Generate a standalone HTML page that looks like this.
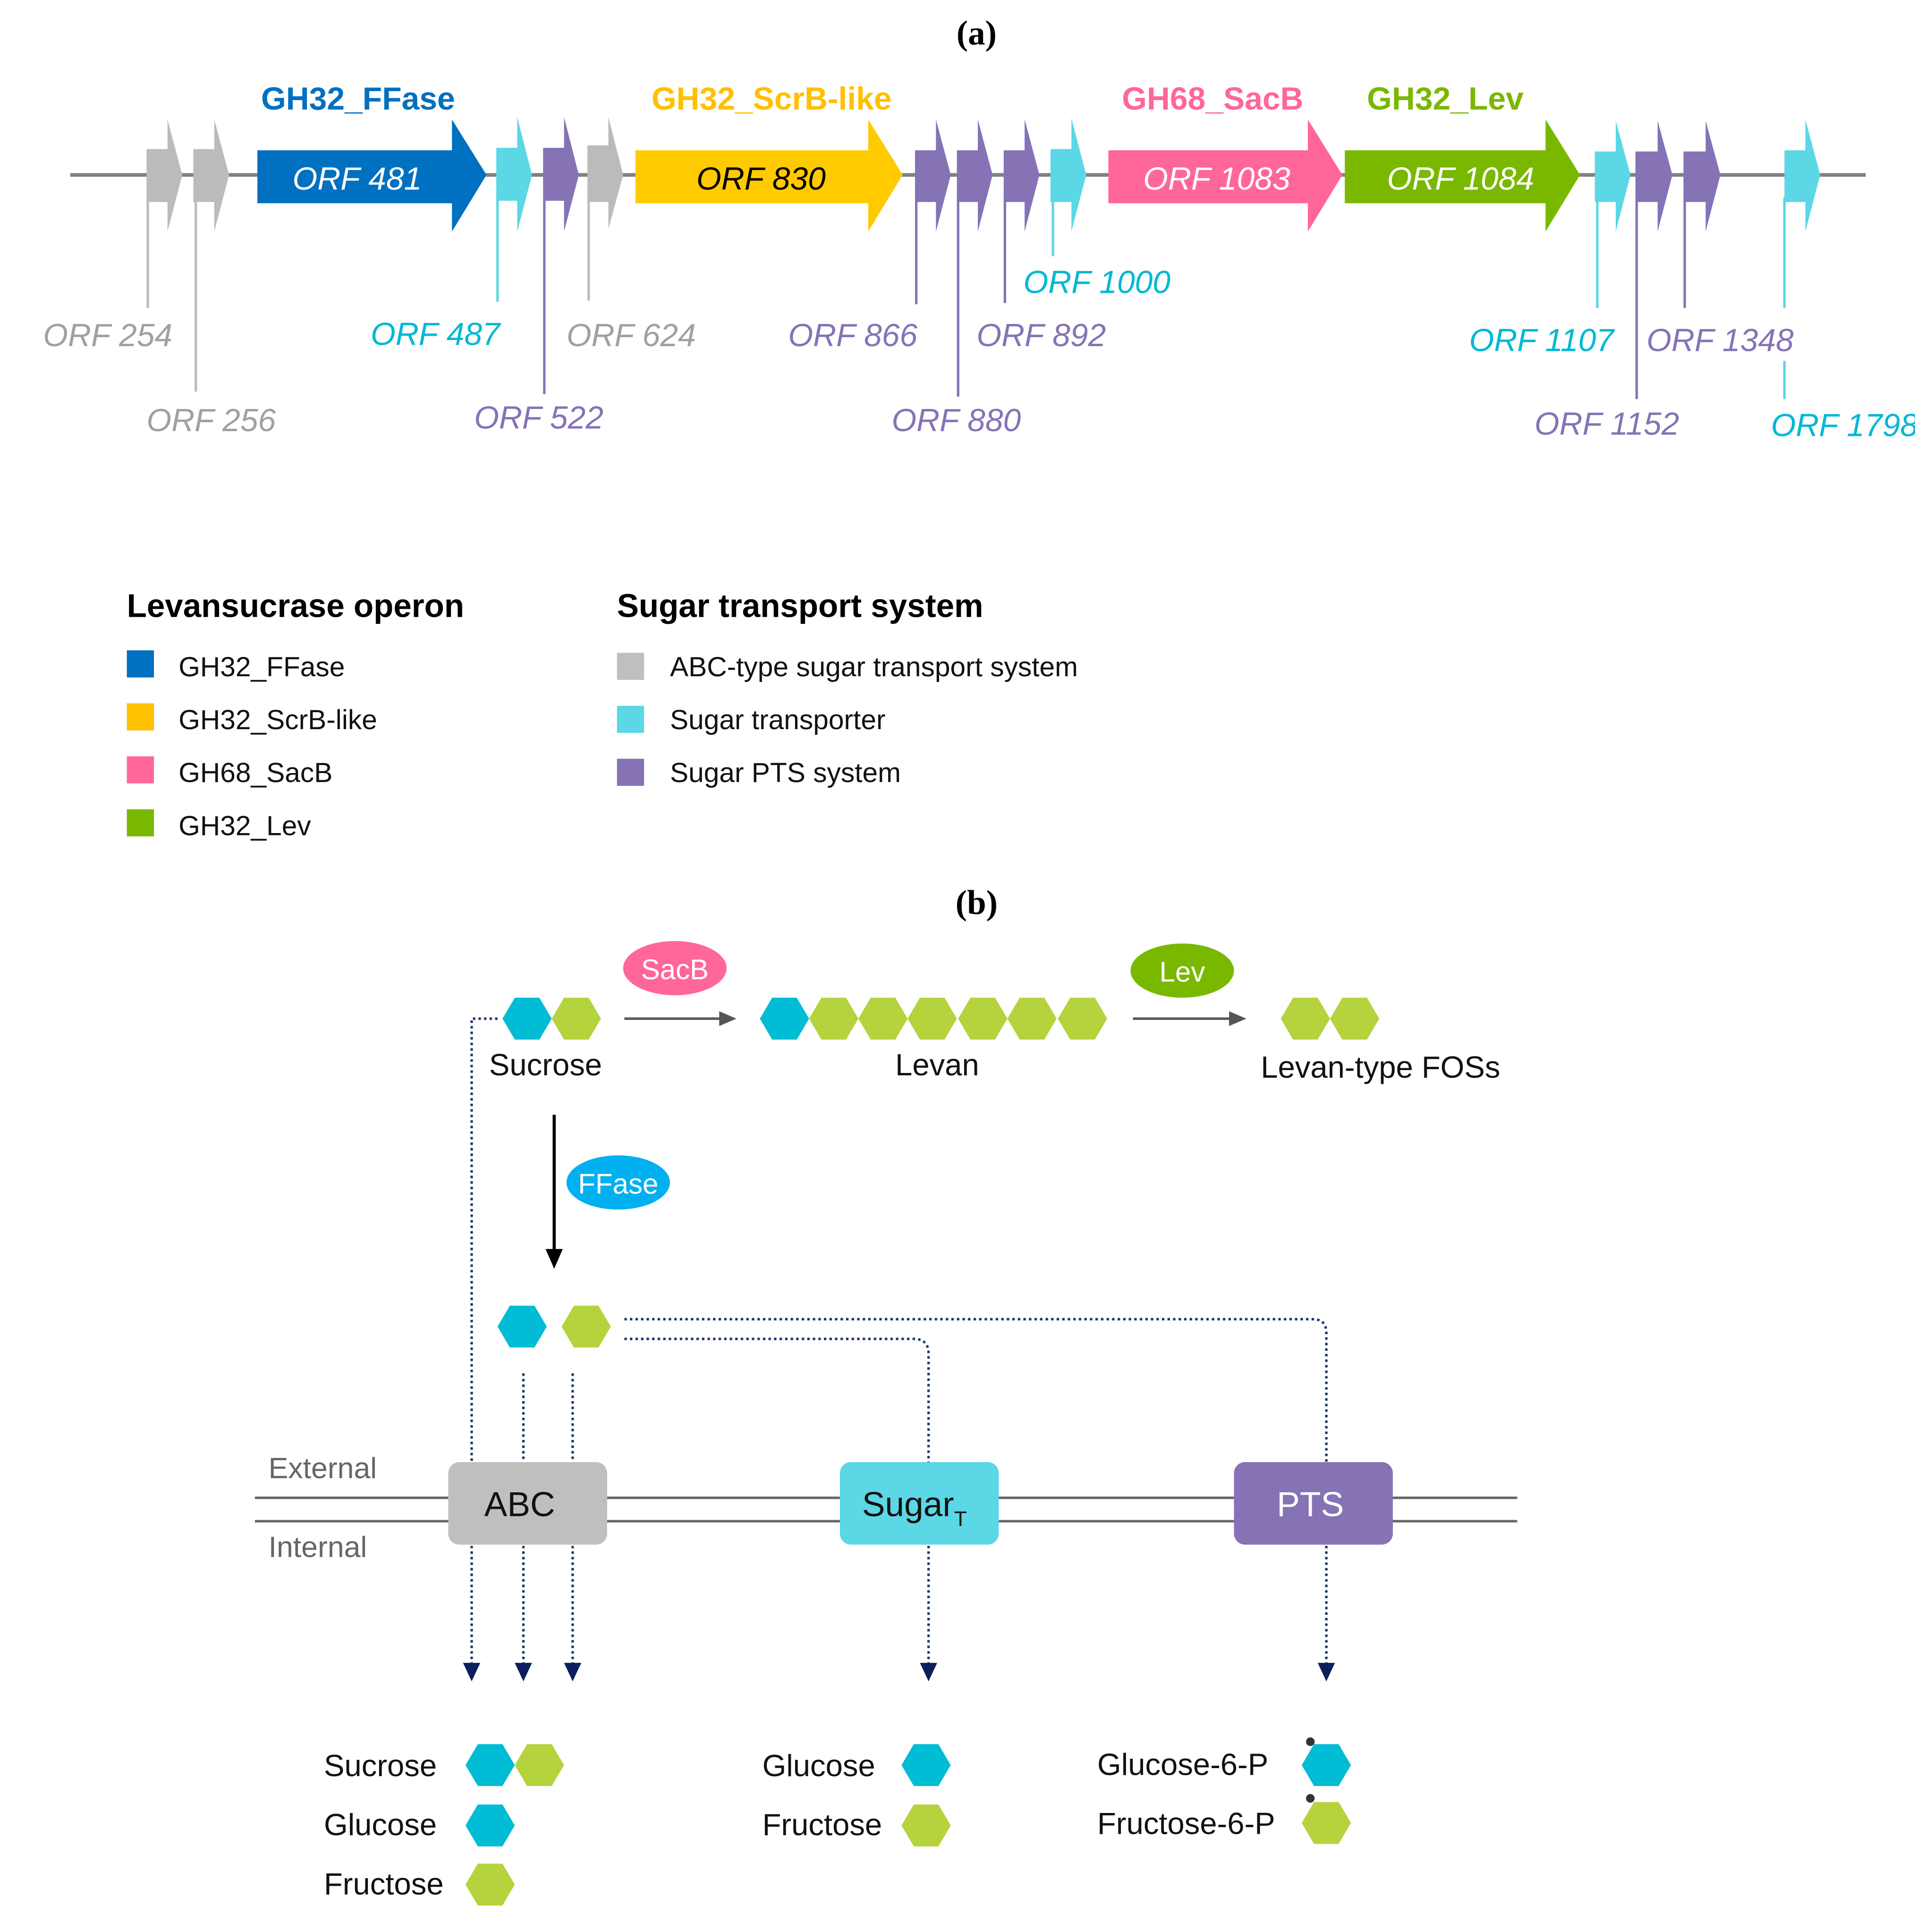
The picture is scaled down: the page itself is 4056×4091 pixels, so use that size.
<!DOCTYPE html>
<html><head><meta charset="utf-8"><style>
html,body{margin:0;padding:0;background:#fff}
svg{display:block}
.o{font-family:"Liberation Sans Narrow","Liberation Sans",sans-serif;font-style:italic;font-size:26px}
.t{font-family:"Liberation Sans Narrow","Liberation Sans",sans-serif;font-weight:bold;font-size:26px}
.s{font-family:"Liberation Sans",sans-serif;font-size:22.5px;fill:#111}
.b{font-family:"Liberation Sans",sans-serif;font-size:25px;fill:#111}
.d{fill:none;stroke:#1a3470;stroke-width:2;stroke-dasharray:2 2.5}
</style></head><body>
<svg width="4056" height="4091" viewBox="0 0 1555 1568.5" preserveAspectRatio="none">
<defs>
<polygon id="hc" points="-20,0 -10,-17 10,-17 20,0 10,17 -10,17" fill="#00bcd4"/>
<polygon id="hg" points="-20,0 -10,-17 10,-17 20,0 10,17 -10,17" fill="#b5d33d"/>
<polygon id="ah" points="-7,0 7,0 0,15" fill="#0b1f5c"/>
</defs>
<text x="793" y="36" text-anchor="middle" font-family="Liberation Serif,serif" font-weight="bold" font-size="28">(a)</text>
<line x1="57" y1="142" x2="1515" y2="142" stroke="#808080" stroke-width="3"/>
<g stroke-width="2">
<line x1="120" y1="160" x2="120" y2="250" stroke="#bbb"/>
<line x1="159" y1="160" x2="159" y2="318" stroke="#bbb"/>
<line x1="404" y1="160" x2="404" y2="245" stroke="#5bd7e5"/>
<line x1="442" y1="160" x2="442" y2="320" stroke="#8573b6"/>
<line x1="478" y1="160" x2="478" y2="244" stroke="#bbb"/>
<line x1="744" y1="160" x2="744" y2="247" stroke="#8573b6"/>
<line x1="778" y1="160" x2="778" y2="322" stroke="#8573b6"/>
<line x1="816" y1="160" x2="816" y2="246" stroke="#8573b6"/>
<line x1="855" y1="160" x2="855" y2="208" stroke="#5bd7e5"/>
<line x1="1297" y1="160" x2="1297" y2="250" stroke="#5bd7e5"/>
<line x1="1329" y1="160" x2="1329" y2="324" stroke="#8573b6"/>
<line x1="1368" y1="160" x2="1368" y2="250" stroke="#8573b6"/>
<line x1="1449" y1="160" x2="1449" y2="250" stroke="#5bd7e5"/>
<line x1="1449" y1="293" x2="1449" y2="324" stroke="#5bd7e5"/>
</g>
<g>
<path d="M119,121h17v-24l12,45l-12,46v-24h-17z" fill="#bbb"/>
<path d="M157,121h17v-24l12,45l-12,46v-24h-17z" fill="#bbb"/>
<path d="M403,120h17v-25l12,47l-12,46v-25h-17z" fill="#5bd7e5"/>
<path d="M441,120h17v-25l12,47l-12,46v-25h-17z" fill="#8573b6"/>
<path d="M477,118h17v-23l12,47l-12,44v-22h-17z" fill="#bbb"/>
<path d="M743,122h17v-25l12,45l-12,46v-24h-17z" fill="#8573b6"/>
<path d="M777,122h17v-25l12,45l-12,46v-24h-17z" fill="#8573b6"/>
<path d="M815,122h17v-25l12,45l-12,46v-24h-17z" fill="#8573b6"/>
<path d="M853,121h17v-25l12,46l-12,46v-24h-17z" fill="#5bd7e5"/>
<path d="M1295,123h17v-25l12,44l-12,46v-24h-17z" fill="#5bd7e5"/>
<path d="M1328,123h18v-25l12,44l-12,46v-24h-18z" fill="#8573b6"/>
<path d="M1367,123h18v-25l12,44l-12,46v-24h-18z" fill="#8573b6"/>
<path d="M1449,122h17v-25l12,45l-12,46v-24h-17z" fill="#5bd7e5"/>
</g>
<path d="M209,122h158v-25l28,45l-28,46v-23h-158z" fill="#0070c0"/>
<path d="M516,122h189v-25l28,45l-28,46v-23h-189z" fill="#ffcb00"/>
<path d="M900,122h162v-25l28,45l-28,46v-23h-162z" fill="#ff6699"/>
<path d="M1092,122h163v-25l28,45l-28,46v-23h-163z" fill="#7ab800"/>
<text class="o" x="290" y="154" text-anchor="middle" fill="#fff">ORF 481</text>
<text class="o" x="618" y="154" text-anchor="middle" fill="#000">ORF 830</text>
<text class="o" x="988" y="154" text-anchor="middle" fill="#fff">ORF 1083</text>
<text class="o" x="1186" y="154" text-anchor="middle" fill="#fff">ORF 1084</text>
<text class="t" x="212" y="89" fill="#0070c0">GH32_FFase</text>
<text class="t" x="529" y="89" fill="#ffc000">GH32_ScrB-like</text>
<text class="t" x="911" y="89" fill="#ff6699">GH68_SacB</text>
<text class="t" x="1110" y="89" fill="#7ab800">GH32_Lev</text>
<g class="o">
<text x="35" y="281" fill="#a0a0a0">ORF 254</text>
<text x="119" y="350" fill="#a0a0a0">ORF 256</text>
<text x="301" y="280" fill="#00b8d4">ORF 487</text>
<text x="385" y="348" fill="#8573b6">ORF 522</text>
<text x="460" y="281" fill="#a0a0a0">ORF 624</text>
<text x="640" y="281" fill="#8573b6">ORF 866</text>
<text x="724" y="350" fill="#8573b6">ORF 880</text>
<text x="793" y="281" fill="#8573b6">ORF 892</text>
<text x="831" y="238" fill="#00b8d4">ORF 1000</text>
<text x="1193" y="285" fill="#00b8d4">ORF 1107</text>
<text x="1337" y="285" fill="#8573b6">ORF 1348</text>
<text x="1246" y="353" fill="#8573b6">ORF 1152</text>
<text x="1438" y="354" fill="#00b8d4">ORF 1798</text>
</g>
<text x="103" y="501" font-family="Liberation Sans,sans-serif" font-weight="bold" font-size="26.5">Levansucrase operon</text>
<text x="501" y="501" font-family="Liberation Sans,sans-serif" font-weight="bold" font-size="26.5">Sugar transport system</text>
<rect x="103" y="528" width="22" height="22" fill="#0070c0"/><text class="s" x="145" y="549">GH32_FFase</text>
<rect x="103" y="571" width="22" height="22" fill="#ffc000"/><text class="s" x="145" y="592">GH32_ScrB-like</text>
<rect x="103" y="614" width="22" height="22" fill="#ff6699"/><text class="s" x="145" y="635">GH68_SacB</text>
<rect x="103" y="657" width="22" height="22" fill="#7ab800"/><text class="s" x="145" y="678">GH32_Lev</text>
<rect x="501" y="530" width="22" height="22" fill="#bfbfbf"/><text class="s" x="544" y="549">ABC-type sugar transport system</text>
<rect x="501" y="573" width="22" height="22" fill="#5bd7e5"/><text class="s" x="544" y="592">Sugar transporter</text>
<rect x="501" y="616" width="22" height="22" fill="#8573b6"/><text class="s" x="544" y="635">Sugar PTS system</text>
<text x="793" y="742" text-anchor="middle" font-family="Liberation Serif,serif" font-weight="bold" font-size="28">(b)</text>
<use href="#hc" x="428" y="827"/><use href="#hg" x="468" y="827"/>
<use href="#hc" x="637" y="827"/><use href="#hg" x="677" y="827"/><use href="#hg" x="717" y="827"/><use href="#hg" x="757" y="827"/><use href="#hg" x="798" y="827"/><use href="#hg" x="838" y="827"/><use href="#hg" x="879" y="827"/>
<use href="#hg" x="1060" y="827"/><use href="#hg" x="1100" y="827"/>
<line x1="507" y1="827" x2="586" y2="827" stroke="#555" stroke-width="2"/><polygon points="584,821 598,827 584,833" fill="#555"/>
<line x1="920" y1="827" x2="1000" y2="827" stroke="#555" stroke-width="2"/><polygon points="998,821 1012,827 998,833" fill="#555"/>
<ellipse cx="548" cy="786" rx="42" ry="22" fill="#ff6699"/><text x="548" y="795" text-anchor="middle" font-family="Liberation Sans,sans-serif" font-size="23" fill="#fff">SacB</text>
<ellipse cx="960" cy="788" rx="42" ry="22" fill="#7ab800"/><text x="960" y="797" text-anchor="middle" font-family="Liberation Sans,sans-serif" font-size="23" fill="#fff">Lev</text>
<text class="b" x="443" y="873" text-anchor="middle">Sucrose</text>
<text class="b" x="761" y="873" text-anchor="middle">Levan</text>
<text class="b" x="1121" y="875" text-anchor="middle">Levan-type FOSs</text>
<line x1="450" y1="905" x2="450" y2="1016" stroke="#000" stroke-width="2.5"/><polygon points="443,1014 457,1014 450,1030" fill="#000"/>
<ellipse cx="502" cy="960" rx="42" ry="22" fill="#00b0f0"/><text x="502" y="969" text-anchor="middle" font-family="Liberation Sans,sans-serif" font-size="23" fill="#fff">FFase</text>
<use href="#hc" x="424" y="1077"/><use href="#hg" x="476" y="1077"/>
<path class="d" d="M404,827H383V1187"/>
<line class="d" x1="425" y1="1115" x2="425" y2="1187"/>
<line class="d" x1="465" y1="1115" x2="465" y2="1187"/>
<path class="d" d="M507,1087H742Q754,1087 754,1099V1187"/>
<path class="d" d="M507,1071H1066Q1077,1071 1077,1082V1187"/>
<line class="d" x1="383" y1="1255" x2="383" y2="1350"/>
<line class="d" x1="425" y1="1255" x2="425" y2="1350"/>
<line class="d" x1="465" y1="1255" x2="465" y2="1350"/>
<line class="d" x1="754" y1="1255" x2="754" y2="1350"/>
<line class="d" x1="1077" y1="1255" x2="1077" y2="1350"/>
<use href="#ah" x="383" y="1350"/><use href="#ah" x="425" y="1350"/><use href="#ah" x="465" y="1350"/><use href="#ah" x="754" y="1350"/><use href="#ah" x="1077" y="1350"/>
<line x1="207" y1="1216" x2="1232" y2="1216" stroke="#666" stroke-width="2"/>
<line x1="207" y1="1235" x2="1232" y2="1235" stroke="#666" stroke-width="2"/>
<text x="218" y="1200" font-family="Liberation Sans,sans-serif" font-size="24" fill="#666">External</text>
<text x="218" y="1264" font-family="Liberation Sans,sans-serif" font-size="24" fill="#666">Internal</text>
<rect x="364" y="1187" width="129" height="67" rx="9" fill="#bfbfbf"/>
<text x="422" y="1231" text-anchor="middle" font-family="Liberation Sans,sans-serif" font-size="28" fill="#111">ABC</text>
<rect x="682" y="1187" width="129" height="67" rx="9" fill="#5bd7e5"/>
<text x="700" y="1231" font-family="Liberation Sans,sans-serif" font-size="28" fill="#111">Sugar<tspan font-size="17" dy="8">T</tspan></text>
<rect x="1002" y="1187" width="129" height="67" rx="9" fill="#8573b6"/>
<text x="1064" y="1231" text-anchor="middle" font-family="Liberation Sans,sans-serif" font-size="28" fill="#fff">PTS</text>
<text class="b" x="263" y="1442">Sucrose</text><use href="#hc" x="398" y="1433"/><use href="#hg" x="438" y="1433"/>
<text class="b" x="263" y="1490">Glucose</text><use href="#hc" x="398" y="1482"/>
<text class="b" x="263" y="1538">Fructose</text><use href="#hg" x="398" y="1530"/>
<text class="b" x="619" y="1442">Glucose</text><use href="#hc" x="752" y="1433"/>
<text class="b" x="619" y="1490">Fructose</text><use href="#hg" x="752" y="1482"/>
<text class="b" x="891" y="1441">Glucose-6-P</text><use href="#hc" x="1077" y="1433"/><circle cx="1064" cy="1414" r="3.5" fill="#333"/>
<text class="b" x="891" y="1489">Fructose-6-P</text><use href="#hg" x="1077" y="1480"/><circle cx="1064" cy="1460" r="3.5" fill="#333"/>
</svg>
</body></html>
